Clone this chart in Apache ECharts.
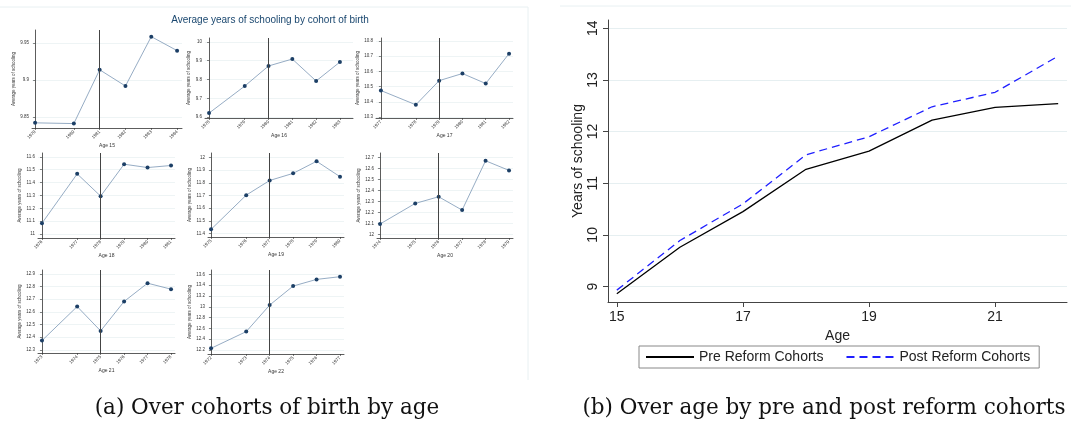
<!DOCTYPE html>
<html>
<head>
<meta charset="utf-8">
<title>Years of schooling</title>
<script src="https://cdn.jsdelivr.net/npm/echarts@6.0.0/dist/echarts.min.js"></script>
<style>
  html, body { margin: 0; padding: 0; background: #fff; }
  #main { width: 1071px; height: 430px; }
</style>
</head>
<body>
<div id="main"></div>
<script>
// left panel: one small chart per age, cohorts of birth on x
const panelAges = [15, 16, 17, 18, 19, 20, 21, 22]
const cohortPos = [0, 1.5, 2.5, 3.5, 4.5, 5.5]
const reformPos = 2.5
const cohortLabels = [
  ['1979', '1980', '1981', '1982', '1983', '1984'],
  ['1978', '1979', '1980', '1981', '1982', '1983'],
  ['1977', '1978', '1979', '1980', '1981', '1982'],
  ['1976', '1977', '1978', '1979', '1980', '1981'],
  ['1975', '1976', '1977', '1978', '1979', '1980'],
  ['1974', '1975', '1976', '1977', '1978', '1979'],
  ['1973', '1974', '1975', '1976', '1977', '1978'],
  ['1972', '1973', '1974', '1975', '1976', '1977']
]
const schoolingByAge = [
  [9.842, 9.841, 9.914, 9.892, 9.959, 9.940],
  [9.621, 9.765, 9.872, 9.909, 9.792, 9.893],
  [10.474, 10.380, 10.539, 10.586, 10.520, 10.717],
  [11.085, 11.468, 11.295, 11.543, 11.517, 11.533],
  [11.434, 11.703, 11.818, 11.874, 11.969, 11.848],
  [12.094, 12.282, 12.343, 12.221, 12.672, 12.584],
  [12.374, 12.642, 12.450, 12.682, 12.826, 12.779],
  [12.231, 12.540, 13.031, 13.383, 13.506, 13.556]
]
const yTicksByAge = [
  [9.85, 9.9, 9.95],
  [9.6, 9.7, 9.8, 9.9, 10],
  [10.3, 10.4, 10.5, 10.6, 10.7, 10.8],
  [11, 11.1, 11.2, 11.3, 11.4, 11.5, 11.6],
  [11.4, 11.5, 11.6, 11.7, 11.8, 11.9, 12],
  [12, 12.1, 12.2, 12.3, 12.4, 12.5, 12.6, 12.7],
  [12.3, 12.4, 12.5, 12.6, 12.7, 12.8, 12.9],
  [12.2, 12.4, 12.6, 12.8, 13, 13.2, 13.4, 13.6]
]

// right panel: by age, pre vs post reform
const ages = [15, 16, 17, 18, 19, 20, 21, 22]
const preReform = [8.86, 9.76, 10.45, 11.27, 11.62, 12.22, 12.47, 12.54]
const postReform = [8.93, 9.89, 10.60, 11.55, 11.90, 12.48, 12.76, 13.46]
const ageTicks = [15, 17, 19, 21]
const yearTicks = [9, 10, 11, 12, 13, 14]

// layout of small charts: [left, top, width, height, xMin, xMax, yMin, yMax]
const smallBoxes = [
  [32, 30, 150, 98, -0.12, 5.69, 9.835, 9.968],
  [205, 38, 148, 80, -0.17, 6.05, 9.595, 10.021],
  [376, 38, 137, 80, -0.21, 5.67, 10.293, 10.82],
  [38, 153, 137, 85, -0.17, 5.67, 10.97, 11.63],
  [208, 153, 136, 84, -0.13, 5.67, 11.374, 12.034],
  [377, 153, 136, 85, -0.13, 5.67, 11.966, 12.743],
  [38, 270, 137, 83, -0.17, 5.67, 12.276, 12.93],
  [208, 270, 136, 84, -0.13, 5.67, 12.126, 13.68]
]

const sans = 'Liberation Sans, Arial, sans-serif'
const chart = echarts.init(document.getElementById('main'))

const grids = []
const xAxes = []
const yAxes = []
const series = []

smallBoxes.forEach((b, i) => {
  grids.push({ left: b[0], top: b[1], width: b[2], height: b[3] })
  xAxes.push({
    type: 'value',
    gridIndex: i,
    min: b[4],
    max: b[5],
    name: 'Age ' + panelAges[i],
    nameLocation: 'middle',
    nameGap: 13,
    nameTextStyle: { fontSize: 5, color: '#333', fontFamily: sans },
    axisLine: { show: true, lineStyle: { color: '#333', width: 0.8 } },
    axisTick: { show: true, length: 2, customValues: cohortPos, lineStyle: { color: '#333', width: 0.6 } },
    axisLabel: {
      customValues: cohortPos,
      rotate: 45,
      fontSize: 4.5,
      margin: 3,
      color: '#333',
      fontFamily: sans,
      formatter: (v) => cohortLabels[i][cohortPos.indexOf(v)]
    },
    splitLine: { show: false }
  })
  yAxes.push({
    type: 'value',
    gridIndex: i,
    min: b[6],
    max: b[7],
    name: 'Average years of schooling',
    nameLocation: 'middle',
    nameGap: 14,
    nameTextStyle: { fontSize: 4.5, color: '#333', fontFamily: sans },
    axisLine: { show: true, lineStyle: { color: '#333', width: 0.8 } },
    axisTick: { show: true, length: 2, customValues: yTicksByAge[i], lineStyle: { color: '#333', width: 0.6 } },
    axisLabel: {
      customValues: yTicksByAge[i],
      fontSize: 4.5,
      margin: 3,
      color: '#333',
      fontFamily: sans,
      formatter: (v) => String(+v.toFixed(2))
    },
    splitLine: { show: true, lineStyle: { color: '#eaf1f3', width: 0.8 } }
  })
  series.push({
    type: 'line',
    name: 'Age ' + panelAges[i],
    xAxisIndex: i,
    yAxisIndex: i,
    data: cohortPos.map((p, j) => [p, schoolingByAge[i][j]]),
    symbol: 'circle',
    symbolSize: 4,
    lineStyle: { color: '#7b97b5', width: 0.8 },
    itemStyle: { color: '#1c3f66' },
    markLine: {
      silent: true,
      symbol: 'none',
      label: { show: false },
      lineStyle: { color: '#444', width: 1, type: 'solid' },
      data: [{ xAxis: reformPos }]
    }
  })
})

// right panel
const r = smallBoxes.length
grids.push({ left: 608, top: 20, width: 459, height: 282 })
xAxes.push({
  type: 'value',
  gridIndex: r,
  min: 14.86,
  max: 22.14,
  name: 'Age',
  nameLocation: 'middle',
  nameGap: 22,
  nameTextStyle: { fontSize: 14, color: '#222', fontFamily: sans },
  axisLine: { show: true, lineStyle: { color: '#444', width: 1 } },
  axisTick: { show: true, length: 5, customValues: ageTicks, lineStyle: { color: '#444' } },
  axisLabel: { customValues: ageTicks, fontSize: 14, margin: 8, color: '#222', fontFamily: sans },
  splitLine: { show: false }
})
yAxes.push({
  type: 'value',
  gridIndex: r,
  min: 8.7,
  max: 14.16,
  name: 'Years of schooling',
  nameLocation: 'middle',
  nameGap: 22,
  nameTextStyle: { fontSize: 14, color: '#222', fontFamily: sans },
  axisLine: { show: true, lineStyle: { color: '#444', width: 1 } },
  axisTick: { show: true, length: 5, customValues: yearTicks, lineStyle: { color: '#444' } },
  axisLabel: { customValues: yearTicks, rotate: 90, fontSize: 14, margin: 8, color: '#222', fontFamily: sans },
  splitLine: { show: true, lineStyle: { color: '#e6eff1', width: 1 } }
})
series.push({
  type: 'line',
  name: 'Pre Reform Cohorts',
  xAxisIndex: r,
  yAxisIndex: r,
  data: ages.map((a, j) => [a, preReform[j]]),
  symbol: 'none',
  itemStyle: { color: '#000' },
  lineStyle: { color: '#000', width: 1.3 }
})
series.push({
  type: 'line',
  name: 'Post Reform Cohorts',
  xAxisIndex: r,
  yAxisIndex: r,
  data: ages.map((a, j) => [a, postReform[j]]),
  symbol: 'none',
  itemStyle: { color: '#1f1fff' },
  lineStyle: { color: '#1f1fff', width: 1.3, type: [8, 5] }
})

const option = {
  animation: false,
  backgroundColor: '#fff',
  grid: grids,
  xAxis: xAxes,
  yAxis: yAxes,
  series: series,
  legend: {
    data: ['Pre Reform Cohorts', 'Post Reform Cohorts'],
    left: 639,
    top: 346,
    itemWidth: 48,
    itemHeight: 10,
    itemGap: 22,
    padding: [4, 9, 4, 6],
    borderColor: '#888',
    borderWidth: 1,
    borderRadius: 0,
    itemStyle: { opacity: 0 },
    textStyle: { fontSize: 14, color: '#222', fontFamily: sans }
  },
  graphic: [
    // faint panel frames
    { type: 'line', shape: { x1: 0, y1: 7, x2: 528, y2: 7 }, style: { stroke: '#e8f0f2', lineWidth: 1 } },
    { type: 'line', shape: { x1: 528, y1: 7, x2: 528, y2: 380 }, style: { stroke: '#e8f0f2', lineWidth: 1 } },
    { type: 'line', shape: { x1: 560, y1: 6, x2: 1071, y2: 6 }, style: { stroke: '#e8f0f2', lineWidth: 1 } },
    {
      type: 'text', x: 270, y: 20,
      style: { text: 'Average years of schooling by cohort of birth', textAlign: 'center', textVerticalAlign: 'middle', fill: '#1a476f', font: '10px ' + sans }
    },
    {
      type: 'text', x: 267, y: 408,
      style: { text: '(a) Over cohorts of birth by age', textAlign: 'center', textVerticalAlign: 'middle', fill: '#111', font: '21.5px DejaVu Serif, serif' }
    },
    {
      type: 'text', x: 824, y: 408,
      style: { text: '(b) Over age by pre and post reform cohorts', textAlign: 'center', textVerticalAlign: 'middle', fill: '#111', font: '21.5px DejaVu Serif, serif' }
    }
  ]
}

chart.setOption(option)
</script>
</body>
</html>
